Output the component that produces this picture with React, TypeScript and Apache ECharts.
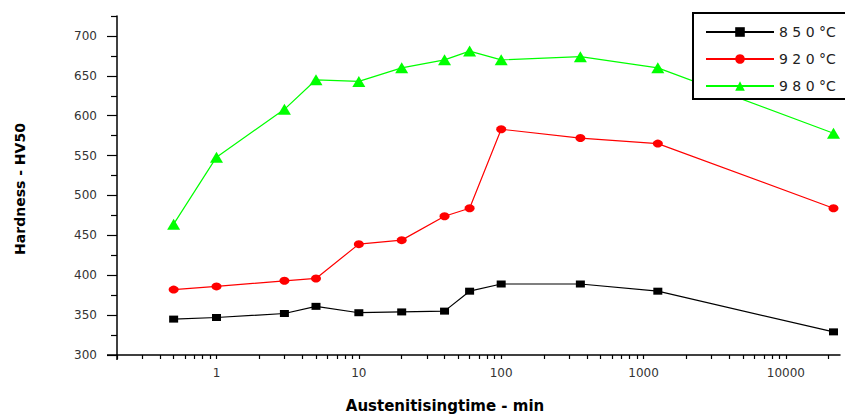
import React, { useEffect, useRef } from "react";
import * as echarts from "echarts";

const times = [0.5, 1, 3, 5, 10, 20, 40, 60, 100, 360, 1260, 21600];
const hv850 = [345, 347, 352, 361, 353, 354, 355, 380, 389, 389, 380, 329];
const hv920 = [382, 386, 393, 396, 439, 444, 474, 484, 583, 572, 565, 484];
const hv980 = [464, 548, 608, 645, 643, 660, 670, 681, 670, 674, 660, 578];

const seriesNames = ["8 5 0 °C", "9 2 0 °C", "9 8 0 °C"];
const xMajorLabels = [1, 10, 100, 1000, 10000];
const xTickValues = [
  0.2, 0.3, 0.4, 0.5, 0.6, 0.7, 0.8, 0.9,
  1, 2, 3, 4, 5, 6, 7, 8, 9,
  10, 20, 30, 40, 50, 60, 70, 80, 90,
  100, 200, 300, 400, 500, 600, 700, 800, 900,
  1000, 2000, 3000, 4000, 5000, 6000, 7000, 8000, 9000,
  10000, 20000,
];
const yMajorTicks = [300, 350, 400, 450, 500, 550, 600, 650, 700];
const yMinorTicks = [325, 375, 425, 475, 525, 575, 625, 675, 725];

const X_MIN = 0.2;
const X_MAX = 24000;
const Y_MIN = 300;
const Y_MAX = 725;

export default function App() {
  const ref = useRef<HTMLDivElement>(null);

  useEffect(() => {
    if (!ref.current) return;
    const chart = echarts.init(ref.current, undefined, { renderer: "svg" });
    const pair = (ys: number[]) => times.map((t, i) => [t, ys[i]]);
    const labelFont = {
      fontFamily: "DejaVu Sans",
      fontSize: 12,
      color: "#333",
    };
    chart.setOption({
      animation: false,
      backgroundColor: "#fff",
      grid: { left: 117, right: 5, top: 16, bottom: 60, containLabel: false },
      xAxis: [
        {
          type: "log",
          logBase: 10,
          min: X_MIN,
          max: X_MAX,
          position: "bottom",
          axisLine: { show: true, lineStyle: { color: "#000", width: 1.5 } },
          axisTick: {
            show: true,
            length: 4,
            customValues: xTickValues,
            lineStyle: { color: "#000", width: 1.2 },
          },
          minorTick: { show: false },
          splitLine: { show: false },
          axisLabel: {
            ...labelFont,
            margin: 12,
            customValues: xMajorLabels,
            formatter: (v: number) => String(Math.round(v)),
          },
        },
      ],
      yAxis: [
        {
          type: "value",
          min: Y_MIN,
          max: Y_MAX,
          position: "left",
          axisLine: { show: true, lineStyle: { color: "#000", width: 1.5 } },
          axisTick: {
            show: true,
            length: 10,
            customValues: yMajorTicks,
            lineStyle: { color: "#000", width: 1.2 },
          },
          splitLine: { show: false },
          axisLabel: {
            ...labelFont,
            margin: 20,
            customValues: yMajorTicks,
          },
        },
        {
          type: "value",
          min: Y_MIN,
          max: Y_MAX,
          position: "left",
          axisLine: { show: false },
          axisTick: {
            show: true,
            length: 6,
            customValues: yMinorTicks,
            lineStyle: { color: "#000", width: 1.2 },
          },
          splitLine: { show: false },
          axisLabel: { show: false },
        },
      ],
      legend: {
        orient: "vertical",
        left: 693,
        top: 13,
        padding: [12, 10, 7, 12],
        itemWidth: 68,
        itemHeight: 12,
        itemGap: 13,
        borderWidth: 0,
        z: 10,
        textStyle: { fontFamily: "DejaVu Sans", fontSize: 14, color: "#222" },
        data: seriesNames,
      },
      graphic: [
        {
          type: "rect",
          z: 5,
          shape: { x: 693, y: 13, width: 160, height: 86 },
          style: { fill: "#fff", lineWidth: 0 },
          silent: true,
        },
        {
          type: "polyline",
          z: 6,
          shape: {
            points: [
              [860, 13],
              [693, 13],
              [693, 99],
              [860, 99],
            ],
          },
          style: { stroke: "#000", lineWidth: 2, fill: "none" },
          silent: true,
        },
        {
          type: "line",
          shape: { x1: 107, y1: 355, x2: 117, y2: 355 },
          style: { stroke: "#000", lineWidth: 1.5 },
          silent: true,
        },
        {
          type: "line",
          shape: { x1: 117, y1: 355, x2: 117, y2: 360 },
          style: { stroke: "#000", lineWidth: 1.5 },
          silent: true,
        },
        {
          type: "text",
          x: 20,
          y: 189,
          rotation: Math.PI / 2,
          style: {
            text: "Hardness - HV50",
            font: "bold 14px 'DejaVu Sans'",
            fill: "#000",
            align: "center",
            verticalAlign: "middle",
            textAlign: "center",
            textVerticalAlign: "middle",
          },
        },
        {
          type: "text",
          x: 445,
          y: 406,
          style: {
            text: "Austenitisingtime - min",
            font: "bold 15px 'DejaVu Sans'",
            fill: "#000",
            align: "center",
            verticalAlign: "middle",
            textAlign: "center",
            textVerticalAlign: "middle",
          },
        },
      ],
      series: [
        {
          name: seriesNames[0],
          type: "line",
          data: pair(hv850),
          symbol: "rect",
          symbolSize: [9, 7],
          color: "#000000",
          lineStyle: { width: 1.2, color: "#000000" },
          itemStyle: { color: "#000000" },
        },
        {
          name: seriesNames[1],
          type: "line",
          data: pair(hv920),
          symbol: "circle",
          symbolSize: [10, 8],
          color: "#ff0000",
          lineStyle: { width: 1.2, color: "#ff0000" },
          itemStyle: { color: "#ff0000" },
        },
        {
          name: seriesNames[2],
          type: "line",
          data: pair(hv980),
          symbol: "triangle",
          symbolSize: [13, 11],
          color: "#00ff00",
          lineStyle: { width: 1.2, color: "#00ff00" },
          itemStyle: { color: "#00ff00" },
        },
      ],
    });
    return () => chart.dispose();
  }, []);

  return (
    <div
      ref={ref}
      style={{ position: "fixed", left: 0, top: 0, width: 845, height: 415 }}
    />
  );
}
